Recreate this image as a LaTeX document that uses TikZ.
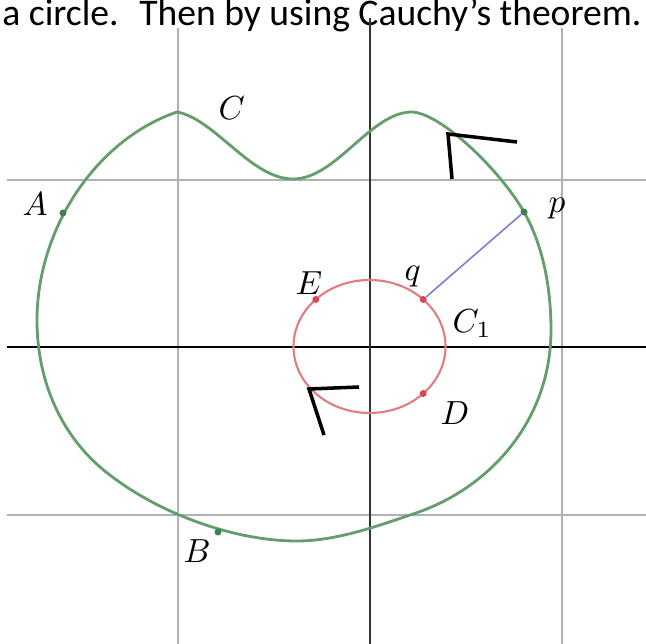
\documentclass[tikz,border=0pt]{standalone}
\usepackage{fontspec}
\newfontfamily\bodyfont{Carlito}
\definecolor{gridgray}{RGB}{178,178,178}
\definecolor{curvegreen}{RGB}{100,158,108}
\definecolor{dotgreen}{RGB}{62,128,80}
\definecolor{circred}{RGB}{226,124,128}
\definecolor{dotred}{RGB}{214,72,88}
\definecolor{segblue}{RGB}{124,124,212}

\begin{document}
\begin{tikzpicture}[x=0.02cm, y=-0.02cm,
	gridl/.style={gridgray, line width=0.7pt},
	axisl/.style={black, line width=1.7pt},
	vaxisl/.style={black!80, line width=1.1pt},
	contour/.style={curvegreen, line width=1.6pt},
	smallc/.style={circred, line width=1.2pt},
	seg/.style={segblue, line width=0.9pt},
	arrowhd/.style={black, line width=2pt},
	gdot/.style={circle, fill=dotgreen, inner sep=0pt, minimum size=0.14cm},
	rdot/.style={circle, fill=dotred, inner sep=0pt, minimum size=0.14cm},
	lbl/.style={inner sep=0pt, anchor=base west, scale=1.9}]
	\useasboundingbox (0,0) rectangle (646,644);
	\clip (0,0) rectangle (646,644);
	% Text line, grid and axes:
	\node[inner sep=0pt, anchor=base west, font=\bodyfont\fontsize{21.4}{26}\selectfont] (head) at (2,26) {a circle.\hspace{0.25em} Then by using Cauchy’s theorem.};
	\draw[gridl] (178,28) -- (178,644);
	\draw[gridl] (562,28) -- (562,644);
	\draw[gridl] (7,180) -- (646,180);
	\draw[gridl] (7,515) -- (646,515);
	\draw[axisl] (7,347) -- (646,347);
	\draw[vaxisl] (370,18) -- (370,644);
	% Contour C and circle C_1:
	\draw[contour] (177,112) .. controls (215,119) and (251,179) .. (293,179)
		.. controls (336,179) and (370,113) .. (411,112)
		.. controls (440,112) and (500,170) .. (524,212)
		.. controls (540,240) and (551,280) .. (551,330)
		.. controls (551,420) and (490,490) .. (410,515)
		.. controls (375,527) and (335,541) .. (297,541)
		.. controls (230,541) and (150,510) .. (100,467)
		.. controls (60,432) and (37,380) .. (37,320)
		.. controls (37,230) and (95,140) .. (177,112) -- cycle;
	\draw[smallc] (369.5,346.5) ellipse [x radius=76, y radius=66.5];
	% Points:
	\node[gdot] (A) at (63,213) {};
	\node[gdot] (p) at (524,212) {};
	\node[gdot] (B) at (218,532) {};
	\node[rdot] (E) at (315.8,299.5) {};
	\node[rdot] (q) at (423.2,299.5) {};
	\node[rdot] (D) at (423.2,393.5) {};
	\draw[seg] (q) -- (p);
	% Orientation marks:
	\draw[arrowhd] (517,142) -- (448,134) -- (452,179);
	\draw[arrowhd] (359,387) -- (309,389) -- (324,435);
	% Labels:
	\node[lbl] (lC) at (218,120) {$C$};
	\node[lbl] (lA) at (22,216) {$A$};
	\node[lbl] (lp) at (548,213) {$p$};
	\node[lbl] (lE) at (295,295) {$E$};
	\node[lbl] (lq) at (404,281) {$q$};
	\node[lbl] (lC1) at (452,333) {$C_1$};
	\node[lbl] (lD) at (440,425) {$D$};
	\node[lbl] (lB) at (183,563) {$B$};
\end{tikzpicture}
\end{document}
